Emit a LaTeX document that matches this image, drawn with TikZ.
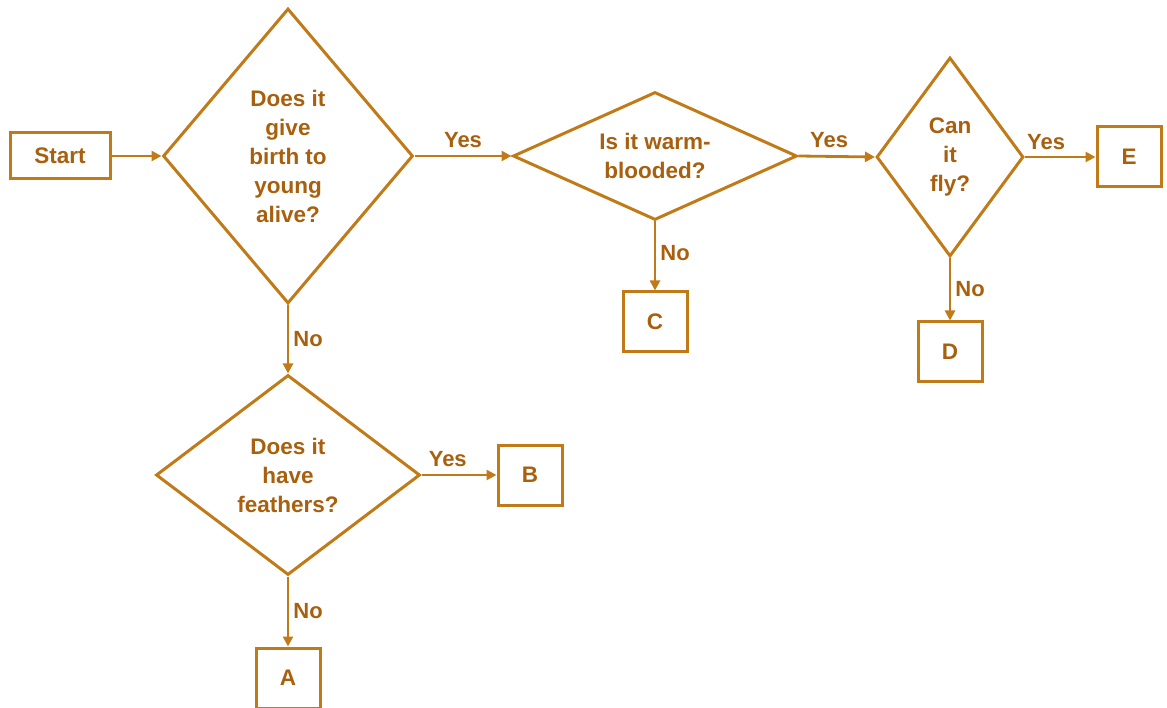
\documentclass[tikz,border=0pt]{standalone}
\usepackage{fontspec}
\setmainfont{Liberation Sans}
\usetikzlibrary{shapes.geometric,arrows.meta}
\definecolor{ink}{RGB}{192,122,24}
\definecolor{txt}{RGB}{168,96,14}
\begin{document}
\begin{tikzpicture}[x=1pt,y=-1pt,
  every node/.style={font=\fontsize{22.5}{29}\selectfont\bfseries, text=txt},
  box/.style={draw=ink, line width=3pt, fill=white, minimum width=64pt, minimum height=60pt, inner sep=0pt},
  ask/.style={draw=ink, line width=3pt, diamond, inner sep=0pt, align=center},
  flow/.style={draw=ink, line width=2.8pt, -{Triangle[length=10pt,width=10pt]}},
  tag/.style={font=\fontsize{22}{25}\selectfont\bfseries, inner sep=2pt}
]
\useasboundingbox (0,0) rectangle (1167,708);

% decision diamonds
\node[ask, aspect=0.85, minimum width=250pt, minimum height=295pt] (q1) at (288,156) {Does it\\give\\birth to\\young\\alive?};
\node[ask, aspect=2.3, minimum width=284pt, minimum height=128pt] (q2) at (655,156) {Is it warm-\\blooded?};
\node[ask, aspect=0.74, minimum width=147pt, minimum height=199pt] (q3) at (950,157) {Can\\it\\fly?};
\node[ask, aspect=1.3, minimum width=264pt, minimum height=200pt] (q4) at (288,475) {Does it\\have\\feathers?};

% terminal boxes
\node[box, minimum width=100pt, minimum height=46pt] (start) at (60,156) {Start};
\node[box] (c) at (655,322) {C};
\node[box] (e) at (1129,157) {E};
\node[box] (d) at (950,352) {D};
\node[box] (b) at (530,475) {B};
\node[box] (a) at (288,678) {A};

% connectors
\draw[flow] (start.east) -- (q1.west);
\draw[flow] (q1.east) -- node[tag, above, yshift=5pt] {Yes} (q2.west);
\draw[flow] (q2.east) -- node[tag, above, yshift=5pt, pos=0.4] {Yes} (q3.west);
\draw[flow] (q3.east) -- node[tag, above, yshift=4pt, pos=0.3] {Yes} (e.west);
\draw[flow] (q2.south) -- node[tag, right, xshift=2pt, pos=0.45] {No} (c.north);
\draw[flow] (q3.south) -- node[tag, right, xshift=2pt] {No} (d.north);
\draw[flow] (q1.south) -- node[tag, right, xshift=2pt] {No} (q4.north);
\draw[flow] (q4.east) -- node[tag, above, yshift=5pt, pos=0.35] {Yes} (b.west);
\draw[flow] (q4.south) -- node[tag, right, xshift=2pt] {No} (a.north);
\end{tikzpicture}
\end{document}
